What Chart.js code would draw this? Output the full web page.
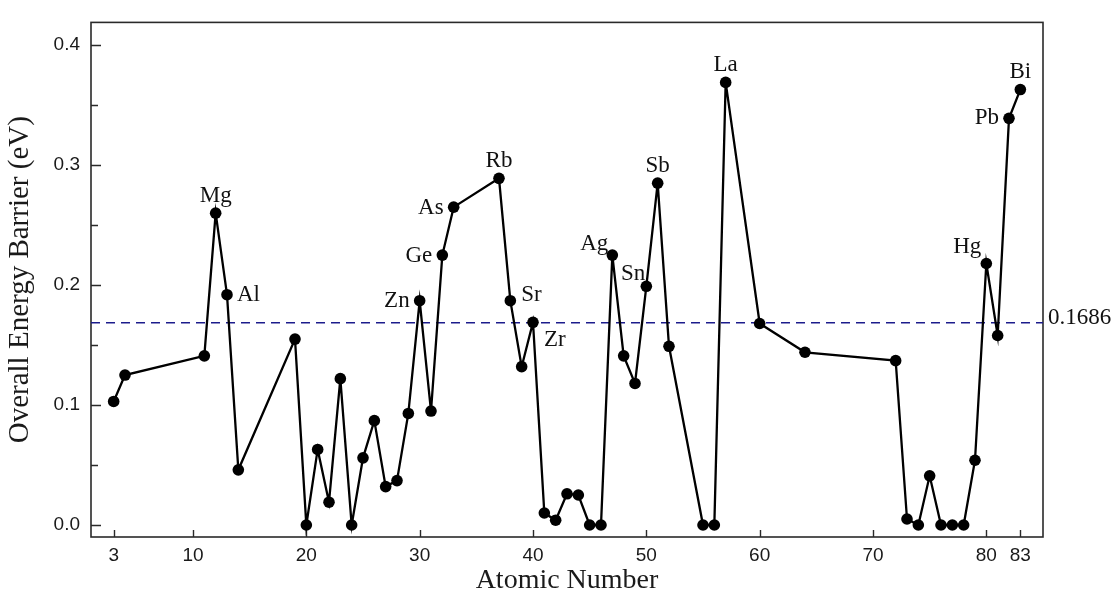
<!DOCTYPE html>
<html lang="en">
<head>
<meta charset="UTF-8">
<title>Overall Energy Barrier vs Atomic Number</title>
<script src="https://cdn.jsdelivr.net/npm/chart.js"></script>
<style>
  html, body { margin: 0; padding: 0; background: #fff; }
  #wrap { width: 1118px; height: 601px; }
</style>
</head>
<body>
<div id="wrap"><canvas id="barrierChart"></canvas></div>
<script>
// dopant atomic numbers and the overall energy barrier of each (eV)
const atomicNumbers = [3, 4, 11, 12, 13, 14, 19, 20, 21, 22, 23, 24, 25, 26, 27, 28, 29, 30, 31, 32,
  33, 37, 38, 39, 40, 41, 42, 43, 44, 45, 46, 47, 48, 49, 50, 51, 52, 55, 56, 57,
  60, 64, 72, 73, 74, 75, 76, 77, 78, 79, 80, 81, 82, 83];
const barriers = [0.103, 0.125, 0.141, 0.260, 0.192, 0.046, 0.155, 0.000, 0.063, 0.019, 0.122, 0.000, 0.056, 0.087, 0.032, 0.037, 0.093, 0.187, 0.095, 0.225,
  0.265, 0.289, 0.187, 0.132, 0.169, 0.010, 0.004, 0.026, 0.025, 0.000, 0.000, 0.225, 0.141, 0.118, 0.199, 0.285, 0.149, 0.000, 0.000, 0.369,
  0.168, 0.144, 0.137, 0.005, 0.000, 0.041, 0.000, 0.000, 0.000, 0.054, 0.218, 0.158, 0.339, 0.363];

// elements that get a name tag
const labeledSymbols = ['Mg', 'Al', 'Zn', 'Ge', 'As', 'Rb', 'Sr', 'Zr', 'Ag', 'Sn', 'Sb', 'La', 'Hg', 'Pb', 'Bi'];
const labeledNumbers = [12, 13, 30, 32, 33, 37, 38, 40, 47, 50, 51, 57, 80, 82, 83];

// average barrier, drawn as the dashed reference line
const meanBarrier = 0.1686;

const xTicks = [3, 10, 20, 30, 40, 50, 60, 70, 80, 83];
const yTicks = [0, 0.1, 0.2, 0.3, 0.4];
const yMinorTicks = [0.05, 0.15, 0.25, 0.35];

const X_MIN = 1, X_MAX = 85;
const Y_MIN = -0.01, Y_MAX = 0.419;

const SERIF = "'Liberation Serif', 'Times New Roman', serif";
const SANS = "'Liberation Sans', Arial, sans-serif";

// where each name tag sits relative to its point
const tagPlacement = {
  Mg: { dx: 0, dy: -17, align: 'center' },
  Al: { dx: 10, dy: 0, align: 'left' },
  Zn: { dx: -10, dy: 0, align: 'right' },
  Ge: { dx: -10, dy: 1, align: 'right' },
  As: { dx: -10, dy: 1, align: 'right' },
  Rb: { dx: 0, dy: -17, align: 'center' },
  Sr: { dx: 11, dy: -6, align: 'left' },
  Zr: { dx: 11, dy: 18, align: 'left' },
  Ag: { dx: -4, dy: -11, align: 'right' },
  Sn: { dx: -1, dy: -12, align: 'right' },
  Sb: { dx: 0, dy: -17, align: 'center' },
  La: { dx: 0, dy: -17, align: 'center' },
  Hg: { dx: -5, dy: -17, align: 'right' },
  Pb: { dx: -10, dy: 0, align: 'right' },
  Bi: { dx: 0, dy: -18, align: 'center' }
};

const points = atomicNumbers.map((z, i) => ({ x: z, y: barriers[i] }));

// frame, inward ticks, element tags and the mean value label
const decorations = {
  id: 'decorations',
  beforeDatasetsDraw(chart) {
    const { ctx, chartArea: a, scales: { x, y } } = chart;
    ctx.save();
    ctx.strokeStyle = '#2a2a2a';
    ctx.lineWidth = 1.6;
    ctx.strokeRect(a.left, a.top, a.right - a.left, a.bottom - a.top);
    ctx.beginPath();
    xTicks.forEach(v => {
      const px = Math.round(x.getPixelForValue(v)) + 0.5;
      ctx.moveTo(px, a.bottom);
      ctx.lineTo(px, a.bottom - 7);
    });
    yTicks.forEach(v => {
      const py = Math.round(y.getPixelForValue(v)) + 0.5;
      ctx.moveTo(a.left, py);
      ctx.lineTo(a.left + 10, py);
    });
    yMinorTicks.forEach(v => {
      const py = Math.round(y.getPixelForValue(v)) + 0.5;
      ctx.moveTo(a.left, py);
      ctx.lineTo(a.left + 7, py);
    });
    ctx.lineWidth = 1.4;
    ctx.stroke();
    ctx.restore();
  },
  afterDatasetsDraw(chart) {
    const { ctx, chartArea: a, scales: { x, y } } = chart;
    ctx.save();
    ctx.fillStyle = '#111';
    ctx.font = '23px ' + SERIF;
    ctx.textBaseline = 'middle';
    labeledSymbols.forEach((sym, k) => {
      const i = atomicNumbers.indexOf(labeledNumbers[k]);
      const p = tagPlacement[sym];
      ctx.textAlign = p.align;
      ctx.fillText(sym, x.getPixelForValue(atomicNumbers[i]) + p.dx, y.getPixelForValue(barriers[i]) + p.dy);
    });
    ctx.textAlign = 'left';
    ctx.textBaseline = 'alphabetic';
    ctx.fillText(meanBarrier.toFixed(4), a.right + 5, y.getPixelForValue(meanBarrier) + 1);
    ctx.restore();
  }
};

new Chart(document.getElementById('barrierChart'), {
  type: 'line',
  data: {
    datasets: [{
      data: points,
      borderColor: '#000',
      backgroundColor: '#000',
      borderWidth: 2.3,
      pointRadius: 5.8,
      pointBorderWidth: 0,
      pointBackgroundColor: '#000',
      tension: 0
    }, {
      data: [{ x: X_MIN, y: meanBarrier }, { x: X_MAX, y: meanBarrier }],
      borderColor: '#1c1c8c',
      borderWidth: 1.6,
      borderDash: [9, 6],
      pointRadius: 0
    }]
  },
  options: {
    responsive: true,
    maintainAspectRatio: false,
    animation: false,
    layout: { padding: { left: 0, right: 75, top: 13, bottom: 0 } },
    plugins: { legend: { display: false }, tooltip: { enabled: false } },
    scales: {
      x: {
        type: 'linear',
        min: X_MIN,
        max: X_MAX,
        grid: { display: false, drawTicks: false },
        border: { display: false },
        afterBuildTicks: s => { s.ticks = xTicks.map(v => ({ value: v })); },
        afterFit: s => { s.height = 64; },
        ticks: {
          padding: 7,
          color: '#1a1a1a',
          font: { family: SANS, size: 19 },
          callback: v => String(v)
        },
        title: {
          display: true,
          text: 'Atomic Number',
          color: '#1a1a1a',
          font: { family: SERIF, size: 28 },
          padding: { top: 0, bottom: 4 }
        }
      },
      y: {
        min: Y_MIN,
        max: Y_MAX,
        grid: { display: false, drawTicks: false },
        border: { display: false },
        afterBuildTicks: s => { s.ticks = yTicks.map(v => ({ value: v })); },
        afterFit: s => { s.width = 91; },
        ticks: {
          padding: 11,
          color: '#1a1a1a',
          font: { family: SANS, size: 19 },
          callback: v => v.toFixed(1)
        },
        title: {
          display: true,
          text: 'Overall Energy Barrier (eV)',
          color: '#1a1a1a',
          font: { family: SERIF, size: 29 },
          padding: { top: 3, bottom: 0 }
        }
      }
    }
  },
  plugins: [decorations]
});
</script>
</body>
</html>
